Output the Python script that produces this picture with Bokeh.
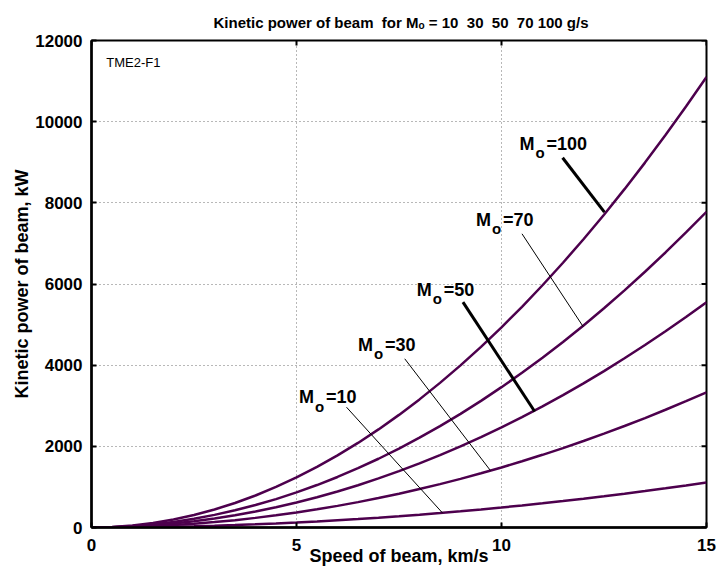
import math
from bokeh.plotting import figure
from bokeh.models import Label, FixedTicker
from bokeh.embed import file_html
from bokeh.resources import INLINE

# ---- data ----
speed = [0, 0.5, 1, 1.5, 2, 2.5, 3, 3.5, 4, 4.5, 5, 5.5, 6, 6.5, 7, 7.5,
         8, 8.5, 9, 9.5, 10, 10.5, 11, 11.5, 12, 12.5, 13, 13.5, 14, 14.5, 15]
p_m10 = [0, 1, 5, 11, 20, 31, 44, 60, 79, 100, 123, 149, 178, 208, 242, 278,
         316, 356, 400, 445, 493, 544, 597, 652, 710, 771, 834, 899, 967, 1037, 1110]
p_m30 = [0, 4, 15, 33, 59, 93, 133, 181, 237, 300, 370, 448, 533, 625, 725, 833,
         947, 1069, 1199, 1336, 1480, 1632, 1791, 1957, 2131, 2313, 2501, 2697, 2901, 3112, 3330]
p_m50 = [0, 6, 25, 56, 99, 154, 222, 302, 395, 500, 617, 746, 888, 1042, 1209, 1388,
         1579, 1782, 1998, 2226, 2467, 2720, 2985, 3262, 3552, 3854, 4169, 4496, 4835, 5186, 5550]
p_m70 = [0, 9, 35, 78, 138, 216, 311, 424, 553, 700, 864, 1046, 1245, 1461, 1694, 1945,
         2213, 2498, 2801, 3121, 3458, 3812, 4184, 4573, 4979, 5403, 5844, 6302, 6777, 7270, 7780]
p_m100 = [0, 12, 49, 111, 197, 308, 444, 604, 789, 999, 1233, 1492, 1776, 2084, 2417, 2775,
          3157, 3564, 3996, 4452, 4933, 5439, 5969, 6524, 7104, 7708, 8337, 8991, 9669, 10372, 11100]
series = [p_m10, p_m30, p_m50, p_m70, p_m100]

x_ticks = [0, 5, 10, 15]
y_ticks = [0, 2000, 4000, 6000, 8000, 10000, 12000]

# curve labels: mass, label anchor (x, y), pointer line start/end, pointer weight
lab_mass = ["10", "30", "50", "70", "100"]
lab_x = [5.06, 6.50, 7.93, 9.38, 10.44]
lab_y = [3211, 4502, 5857, 7589, 9462]
ptr_x0 = [6.22, 7.64, 9.06, 10.50, 11.49]
ptr_y0 = [2964, 4157, 5552, 7237, 9110]
ptr_x1 = [8.56, 9.73, 10.81, 11.99, 12.51]
ptr_y1 = [360, 1404, 2858, 4953, 7769]
ptr_w = [1, 1, 3, 1, 3]

title_text = "Kinetic power of beam\u00a0\u00a0for M\u2092 = 10\u00a0\u00a030\u00a0\u00a050\u00a0\u00a070 100 g/s"

FONT = "Liberation Sans"
CURVE = "#4D004D"

p = figure(width=716, height=575, x_range=(0, 15), y_range=(0, 12000),
           output_backend="svg", toolbar_location=None,
           min_border_left=91, min_border_right=10, min_border_top=40,
           min_border_bottom=48)
p.background_fill_color = "white"
p.border_fill_color = "white"
p.outline_line_color = "black"
p.outline_line_width = 2

p.title.text = title_text
p.title.text_font = FONT
p.title.text_font_style = "bold"
p.title.text_font_size = "15px"
p.title.text_color = "black"
p.title.align = "left"
p.title.offset = 122
p.title.standoff = 20

for ys in series:
    p.line(speed, ys, line_color=CURVE, line_width=2.5)

for i in range(len(lab_mass)):
    p.segment(x0=[ptr_x0[i]], y0=[ptr_y0[i]], x1=[ptr_x1[i]], y1=[ptr_y1[i]],
              line_color="black", line_width=ptr_w[i])
    p.add_layout(Label(x=lab_x[i], y=lab_y[i], text="M", text_font=FONT,
                       text_font_style="bold", text_font_size="18px", text_color="black",
                       text_baseline="alphabetic", text_align="left"))
    p.add_layout(Label(x=lab_x[i], y=lab_y[i], x_offset=16, y_offset=-9, text="o",
                       text_font=FONT, text_font_style="bold", text_font_size="15px",
                       text_color="black", text_baseline="alphabetic", text_align="left"))
    p.add_layout(Label(x=lab_x[i], y=lab_y[i], x_offset=27, text="=" + lab_mass[i],
                       text_font=FONT, text_font_style="bold", text_font_size="18px",
                       text_color="black", text_baseline="alphabetic", text_align="left"))

p.add_layout(Label(x=0.36, y=11450, text="TME2-F1", text_font=FONT, text_color="black",
                   text_font_size="13px", text_baseline="middle", text_align="left"))

# inward ticks on the top and right edges of the box (half of each dash is clipped)
p.scatter([15] * len(y_ticks), y_ticks, marker="dash", size=10, line_color="black",
          line_width=2)
p.scatter(x_ticks, [12000] * len(x_ticks), marker="dash", size=10, angle=math.pi / 2,
          line_color="black", line_width=2)

# axes
for ax in (p.xaxis[0], p.yaxis[0]):
    ax.major_tick_in = 5
    ax.major_tick_out = 0
    ax.minor_tick_line_color = None
    ax.axis_line_width = 2.5
    ax.major_tick_line_width = 2
    ax.major_label_text_font = FONT
    ax.major_label_text_font_style = "bold"
    ax.major_label_text_font_size = "17px"
    ax.major_label_text_color = "black"
    ax.axis_label_text_font = FONT
    ax.axis_label_text_font_style = "bold"
    ax.axis_label_text_font_size = "18px"
    ax.axis_label_text_color = "black"

p.xaxis.ticker = FixedTicker(ticks=x_ticks)
p.yaxis.ticker = FixedTicker(ticks=y_ticks)
p.xaxis.axis_label = "Speed of beam, km/s"
p.yaxis.axis_label = "Kinetic power of beam, kW"
p.xaxis.major_label_standoff = 11
p.xaxis.axis_label_standoff = -8
p.yaxis.major_label_standoff = 9
p.yaxis.axis_label_standoff = 0

p.xgrid.ticker = FixedTicker(ticks=x_ticks)
p.ygrid.ticker = FixedTicker(ticks=y_ticks)
p.grid.grid_line_color = "#707070"
p.grid.grid_line_dash = "1 3"
p.grid.grid_line_width = 1

open("out.html", "w").write(file_html(p, INLINE))
